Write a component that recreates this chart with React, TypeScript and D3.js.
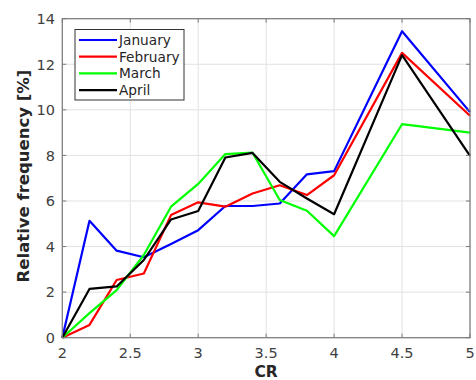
import React from "react";
import * as d3 from "d3";

const crValues = [2, 2.2, 2.4, 2.6, 2.8, 3.0, 3.2, 3.4, 3.6, 3.8, 4.0, 4.5, 5.0];
const january = [0, 5.13, 3.82, 3.53, 4.11, 4.72, 5.78, 5.78, 5.89, 7.17, 7.31, 13.45, 9.9];
const february = [0, 0.56, 2.53, 2.82, 5.38, 5.94, 5.75, 6.33, 6.69, 6.26, 7.13, 12.5, 9.74];
const march = [0, 1.08, 2.09, 3.63, 5.75, 6.75, 8.06, 8.12, 6.04, 5.57, 4.46, 9.37, 9.0];
const april = [0, 2.14, 2.25, 3.41, 5.19, 5.56, 7.91, 8.11, 6.84, 6.11, 5.42, 12.4, 7.98];

const seriesNames = ["January", "February", "March", "April"];
const seriesColors = ["#0000ff", "#ff0000", "#00ff00", "#000000"];
const seriesData = [january, february, march, april];

const xTicks = [2, 2.5, 3, 3.5, 4, 4.5, 5];
const yTicks = [0, 2, 4, 6, 8, 10, 12, 14];

const W = 476;
const H = 380;
const left = 62.3;
const right = 470;
const top = 18.7;
const bottom = 337.7;

export default function App() {
  const x = d3.scaleLinear().domain([2, 5]).range([left, right]);
  const y = d3.scaleLinear().domain([0, 14]).range([bottom, top]);
  const line = d3
    .line<[number, number]>()
    .x((d) => x(d[0]))
    .y((d) => y(d[1]));
  const font = "'DejaVu Sans', sans-serif";
  const tickColor = "#404040";
  const frame = "#7a7a7a";
  const grid = "#e2e2e2";
  const tl = 4;

  return (
    <svg
      width={W}
      height={H}
      style={{ position: "absolute", left: 0, top: 0, background: "#fff" }}
    >
      <rect x={0} y={0} width={W} height={H} fill="#fff" />
      {/* grid */}
      {xTicks.map((t) => (
        <line key={"gx" + t} x1={x(t)} x2={x(t)} y1={top} y2={bottom} stroke={grid} strokeWidth={1} />
      ))}
      {yTicks.map((t) => (
        <line key={"gy" + t} x1={left} x2={right} y1={y(t)} y2={y(t)} stroke={grid} strokeWidth={1} />
      ))}
      {/* series */}
      {seriesData.map((s, i) => (
        <path
          key={seriesNames[i]}
          d={line(crValues.map((c, j) => [c, s[j]] as [number, number])) || ""}
          fill="none"
          stroke={seriesColors[i]}
          strokeWidth={2.2}
          strokeLinejoin="round"
        />
      ))}
      {/* frame */}
      <rect x={left} y={top} width={right - left} height={bottom - top} fill="none" stroke={frame} strokeWidth={1.2} />
      {/* ticks */}
      {xTicks.map((t) => (
        <g key={"tx" + t}>
          <line x1={x(t)} x2={x(t)} y1={bottom} y2={bottom - tl} stroke={frame} />
          <line x1={x(t)} x2={x(t)} y1={top} y2={top + tl} stroke={frame} />
          <text
            x={x(t)}
            y={358}
            textAnchor="middle"
            fontFamily={font}
            fontSize={14.5}
            fill={tickColor}
          >
            {String(t)}
          </text>
        </g>
      ))}
      {yTicks.map((t) => (
        <g key={"ty" + t}>
          <line x1={left} x2={left + tl} y1={y(t)} y2={y(t)} stroke={frame} />
          <line x1={right} x2={right - tl} y1={y(t)} y2={y(t)} stroke={frame} />
          <text
            x={55}
            y={y(t) + 5.3}
            textAnchor="end"
            fontFamily={font}
            fontSize={14.5}
            fill={tickColor}
          >
            {String(t)}
          </text>
        </g>
      ))}
      {/* axis labels */}
      <text
        x={(left + right) / 2}
        y={376.5}
        textAnchor="middle"
        fontFamily={font}
        fontSize={15.5}
        fontWeight="bold"
        fill="#262626"
      >
        CR
      </text>
      <text
        transform={`translate(28.5, 176) rotate(-90)`}
        textAnchor="middle"
        fontFamily={font}
        fontSize={16.5}
        fontWeight="bold"
        fill="#262626"
      >
        Relative frequency [%]
      </text>
      {/* legend */}
      <rect x={75} y={29.5} width={109} height={70.5} fill="#fff" stroke="#333" strokeWidth={1} />
      {seriesNames.map((n, i) => {
        const ly = 40 + i * 16.7;
        return (
          <g key={"lg" + n}>
            <line x1={79} x2={117} y1={ly} y2={ly} stroke={seriesColors[i]} strokeWidth={2.2} />
            <text x={119} y={ly + 5} fontFamily={font} fontSize={13.7} fill="#262626">
              {n}
            </text>
          </g>
        );
      })}
    </svg>
  );
}
